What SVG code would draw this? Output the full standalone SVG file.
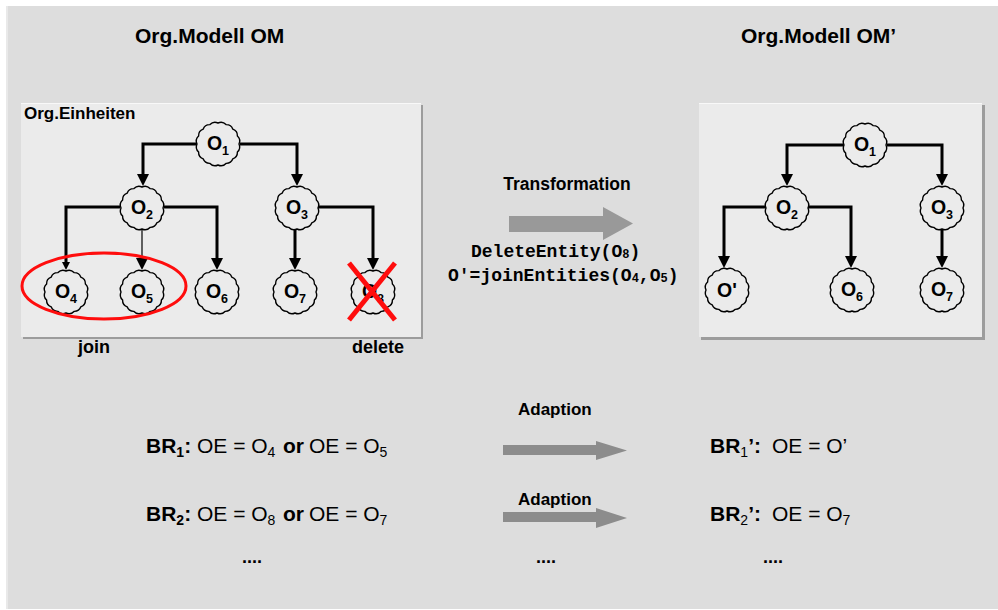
<svg xmlns="http://www.w3.org/2000/svg" xmlns:xlink="http://www.w3.org/1999/xlink" width="998" height="610" viewBox="0 0 998 610">
<style>
.t{font-family:"Liberation Sans",Arial,sans-serif;fill:#000}
.b{font-weight:bold}
.title{font-size:21px;font-weight:bold}
.lbl{font-size:17px;font-weight:bold}
.nl{font-family:"Liberation Sans",Arial,sans-serif;font-size:19.5px;font-weight:bold;text-anchor:middle}
.ns{font-size:12.5px;font-weight:bold}
.mono{font-family:"Liberation Mono","Courier New",monospace;font-size:18px;font-weight:bold}
.ms{font-size:12px}
.br{font-family:"Liberation Sans",Arial,sans-serif;font-size:21px}
.bs{font-size:14px}
.nodeShape{fill:#ebebeb;stroke:#000;stroke-width:1.4}
.thick{fill:none;stroke:#000;stroke-width:3;stroke-linejoin:miter}
.thin{fill:none;stroke:#000;stroke-width:1.2}
.garrow{fill:#999}
.aarrow{fill:#8c8c8c}
.red{fill:none;stroke:#ff0d0d}
</style>
<defs>
<marker id="arr" markerUnits="userSpaceOnUse" markerWidth="12" markerHeight="12" viewBox="0 0 10 10" refX="6.7" refY="5" orient="auto">
<path d="M0,0 L10,5 L0,10 Z" fill="#000"/>
</marker>
<marker id="arrS" markerUnits="userSpaceOnUse" markerWidth="9" markerHeight="8" viewBox="0 0 10 10" refX="5" refY="5" orient="auto">
<path d="M0,0 L10,5 L0,10 Z" fill="#000"/>
</marker>
<path id="nd" class="nodeShape" d="M21,0 A7 7 0 0 1 19.4,8.04 A7 7 0 0 1 14.85,14.85 A7 7 0 0 1 8.04,19.4 A7 7 0 0 1 0,21 A7 7 0 0 1 -8.04,19.4 A7 7 0 0 1 -14.85,14.85 A7 7 0 0 1 -19.4,8.04 A7 7 0 0 1 -21,0 A7 7 0 0 1 -19.4,-8.04 A7 7 0 0 1 -14.85,-14.85 A7 7 0 0 1 -8.04,-19.4 A7 7 0 0 1 0,-21 A7 7 0 0 1 8.04,-19.4 A7 7 0 0 1 14.85,-14.85 A7 7 0 0 1 19.4,-8.04 A7 7 0 0 1 21,0 Z"/>
</defs>

<!-- background -->
<rect x="0" y="0" width="998" height="610" fill="#ffffff"/>
<rect x="6" y="6" width="992" height="603" fill="#dddddd"/>
<line x1="7" y1="6" x2="7" y2="609" stroke="#e9e9e9" stroke-width="2"/>

<!-- titles -->
<text class="t title" x="135" y="43">Org.Modell OM</text>
<text class="t title" x="741" y="43">Org.Modell OM’</text>

<!-- left box -->
<g id="leftBox">
<rect x="23" y="105" width="400" height="234" fill="#9c9c9c"/>
<rect x="21" y="103" width="400" height="234" fill="#ebebeb"/>
<line x1="21" y1="103.5" x2="421" y2="103.5" stroke="#f8f8f8" stroke-width="1"/>
<text class="t lbl" x="24" y="119">Org.Einheiten</text>
</g>

<!-- right box -->
<g id="rightBox">
<rect x="701" y="105" width="284" height="235" fill="#9c9c9c"/>
<rect x="699" y="103" width="283" height="234" fill="#ebebeb"/>
<line x1="699" y1="103.5" x2="982" y2="103.5" stroke="#f8f8f8" stroke-width="1"/>
</g>

<!-- connectors -->
<g id="connectors">
<path class="thick" d="M197,144 H143 V182" marker-end="url(#arr)"/>
<path class="thick" d="M240,144 H297 V182" marker-end="url(#arr)"/>
<path class="thick" d="M120,207 H66 V266" marker-end="url(#arrS)"/>
<path class="thin" d="M142,226 V266" marker-end="url(#arr)"/>
<path class="thick" d="M164,207 H217 V266" marker-end="url(#arr)"/>
<path class="thick" d="M295,227 V266" marker-end="url(#arr)"/>
<path class="thick" d="M318,207 H373 V266" marker-end="url(#arr)"/>

<path class="thick" d="M844,145 H787 V182" marker-end="url(#arr)"/>
<path class="thick" d="M887,145 H942 V182" marker-end="url(#arr)"/>
<path class="thick" d="M766,207 H724 V264" marker-end="url(#arr)"/>
<path class="thick" d="M808,207 H851 V264" marker-end="url(#arr)"/>
<path class="thick" d="M942,228 V264" marker-end="url(#arr)"/>
</g>

<!-- left nodes -->
<g id="L_O1"><use xlink:href="#nd" href="#nd" x="218" y="144"/><text class="nl" x="218" y="150">O<tspan class="ns" dy="5">1</tspan></text></g>
<g id="L_O2"><use xlink:href="#nd" href="#nd" x="142" y="208"/><text class="nl" x="142" y="214">O<tspan class="ns" dy="5">2</tspan></text></g>
<g id="L_O3"><use xlink:href="#nd" href="#nd" x="297" y="208"/><text class="nl" x="297" y="214">O<tspan class="ns" dy="5">3</tspan></text></g>
<g id="L_O4"><use xlink:href="#nd" href="#nd" x="66" y="292"/><text class="nl" x="66" y="298">O<tspan class="ns" dy="5">4</tspan></text></g>
<g id="L_O5"><use xlink:href="#nd" href="#nd" x="142" y="292"/><text class="nl" x="142" y="298">O<tspan class="ns" dy="5">5</tspan></text></g>
<g id="L_O6"><use xlink:href="#nd" href="#nd" x="217" y="292"/><text class="nl" x="217" y="298">O<tspan class="ns" dy="5">6</tspan></text></g>
<g id="L_O7"><use xlink:href="#nd" href="#nd" x="295" y="292"/><text class="nl" x="295" y="298">O<tspan class="ns" dy="5">7</tspan></text></g>
<g id="L_O8"><use xlink:href="#nd" href="#nd" x="373" y="292"/><text class="nl" x="373" y="298">O<tspan class="ns" dy="5">8</tspan></text></g>

<!-- join / delete marks -->
<g id="joinMark">
<ellipse class="red" cx="104" cy="286" rx="82" ry="33" stroke-width="3"/>
<text class="t lbl" x="78" y="353" style="font-size:18px">join</text>
</g>
<g id="deleteMark">
<line class="red" x1="349" y1="263" x2="395" y2="320" stroke-width="5"/>
<line class="red" x1="395" y1="263" x2="349" y2="320" stroke-width="5"/>
<text class="t lbl" x="352" y="353" style="font-size:18px">delete</text>
</g>

<!-- right nodes -->
<g id="R_O1"><use xlink:href="#nd" href="#nd" x="865" y="145"/><text class="nl" x="865" y="151">O<tspan class="ns" dy="5">1</tspan></text></g>
<g id="R_O2"><use xlink:href="#nd" href="#nd" x="787" y="208"/><text class="nl" x="787" y="214">O<tspan class="ns" dy="5">2</tspan></text></g>
<g id="R_O3"><use xlink:href="#nd" href="#nd" x="942" y="208"/><text class="nl" x="942" y="214">O<tspan class="ns" dy="5">3</tspan></text></g>
<g id="R_Op"><use xlink:href="#nd" href="#nd" x="727" y="290"/><text class="nl" x="727" y="297">O'</text></g>
<g id="R_O6"><use xlink:href="#nd" href="#nd" x="852" y="290"/><text class="nl" x="852" y="296">O<tspan class="ns" dy="5">6</tspan></text></g>
<g id="R_O7"><use xlink:href="#nd" href="#nd" x="942" y="290"/><text class="nl" x="942" y="296">O<tspan class="ns" dy="5">7</tspan></text></g>

<!-- transformation -->
<g id="transformation">
<text class="t lbl" x="567" y="190" text-anchor="middle" style="font-size:17.5px">Transformation</text>
<polygon class="garrow" points="509,216 603,216 603,207 633,223.5 603,240 603,232 509,232"/>
<text class="mono" x="471" y="257">DeleteEntity(O<tspan class="ms" dy="1">8</tspan><tspan dy="-1">)</tspan></text>
<text class="mono" x="448" y="281">O'=joinEntities(O<tspan class="ms" dy="1">4</tspan><tspan dy="-1">,O</tspan><tspan class="ms" dy="1">5</tspan><tspan dy="-1">)</tspan></text>
</g>

<!-- business rules -->
<g id="br1">
<text class="br" y="453"><tspan x="146" class="b">BR</tspan><tspan class="bs b" dy="4">1</tspan><tspan class="b" dy="-4">:</tspan><tspan x="197">OE = O</tspan><tspan class="bs" dy="4">4</tspan><tspan class="b" x="283" dy="-4">or</tspan><tspan x="309">OE = O</tspan><tspan class="bs" dy="4">5</tspan></text>
</g>
<g id="br2">
<text class="br" y="521"><tspan x="146" class="b">BR</tspan><tspan class="bs b" dy="4">2</tspan><tspan class="b" dy="-4">:</tspan><tspan x="197">OE = O</tspan><tspan class="bs" dy="4">8</tspan><tspan class="b" x="283" dy="-4">or</tspan><tspan x="309">OE = O</tspan><tspan class="bs" dy="4">7</tspan></text>
</g>
<text class="t b" x="242" y="563" style="font-size:18px">....</text>

<g id="adaption1">
<text class="t lbl" x="518" y="415">Adaption</text>
<polygon class="aarrow" points="503,445 596,445 596,441 627,450.5 596,460 596,455 503,455"/>
</g>
<g id="adaption2">
<text class="t lbl" x="518" y="505">Adaption</text>
<polygon class="aarrow" points="503,512 596,512 596,508 627,518 596,528 596,522 503,522"/>
</g>
<text class="t b" x="536" y="563" style="font-size:18px">....</text>

<g id="br1p">
<text class="br" y="453"><tspan x="710" class="b">BR</tspan><tspan class="bs" dy="4">1</tspan><tspan class="b" dy="-4">’:</tspan><tspan x="772">OE = O’</tspan></text>
</g>
<g id="br2p">
<text class="br" y="521"><tspan x="710" class="b">BR</tspan><tspan class="bs" dy="4">2</tspan><tspan class="b" dy="-4">’:</tspan><tspan x="772">OE = O</tspan><tspan class="bs" dy="4">7</tspan></text>
</g>
<text class="t b" x="763" y="563" style="font-size:18px">....</text>
</svg>
